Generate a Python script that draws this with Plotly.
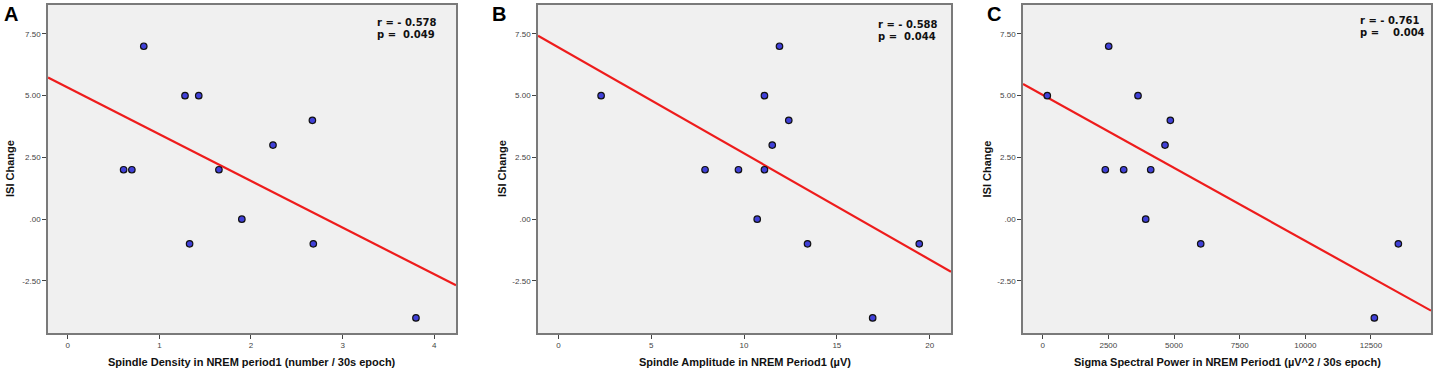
import numpy as np
import plotly.graph_objects as go

# ---- data ----
density_x = [0.83, 0.61, 0.70, 1.28, 1.43, 1.65, 2.24, 2.67, 1.33, 1.90, 2.68, 3.80]
density_y = [7, 2, 2, 5, 5, 2, 3, 4, -1, 0, -1, -4]

amplitude_x = [2.30, 11.91, 11.10, 12.41, 11.52, 7.90, 9.70, 11.10, 10.71, 13.42, 16.93, 19.44]
amplitude_y = [5, 7, 5, 4, 3, 2, 2, 2, 0, -1, -4, -1]

sigma_x = [175, 2513, 3629, 4860, 4657, 2384, 3084, 4113, 3922, 6017, 12628, 13542]
sigma_y = [5, 7, 5, 4, 3, 2, 2, 2, 0, -1, -4, -1]

panel_letters = ["A", "B", "C"]
x_titles = [
    "Spindle Density in NREM period1 (number / 30s epoch)",
    "Spindle Amplitude in NREM Period1 (µV)",
    "Sigma Spectral Power in NREM Period1 (µV^2 / 30s epoch)",
]
y_title = "ISI Change"
r_texts = ["r = - 0.578", "r = - 0.588", "r = - 0.761"]
p_texts = ["p =  0.049", "p =  0.044", "p =    0.004"]

x_tickvals = [[0, 1, 2, 3, 4], [0, 5, 10, 15, 20], [0, 2500, 5000, 7500, 10000, 12500]]
x_ticktext = [["0", "1", "2", "3", "4"], ["0", "5", "10", "15", "20"],
              ["0", "2500", "5000", "7500", "10000", "12500"]]
y_tickvals = [-2.5, 0, 2.5, 5, 7.5]
y_ticktext = ["-2.50", ".00", "2.50", "5.00", "7.50"]

# ---- layout geometry (pixels) ----
W, H = 1439, 375
plot_px = [(48, 456), (538, 951), (1023, 1431)]
plot_top, plot_bottom = 5, 333
x_ranges = [[-0.215, 4.237], [-1.10, 21.15], [-750, 14785]]
y_range = [-4.61, 8.67]
ytitle_px = [10, 502, 986.5]
letter_px = [11, 499, 993.5]
stat_left_px = [375, 875.5, 1357.5]
stat_y_px = [(22.7, 34.0), (25.0, 36.7), (20.7, 32.3)]


def px_x(v):
    return v / W


def px_y(v):
    return 1 - v / H


fig = go.Figure()
datasets = [(density_x, density_y), (amplitude_x, amplitude_y), (sigma_x, sigma_y)]
annotations = []
layout_axes = {}
tick_font = dict(family="Liberation Sans, Arial", size=8, color="#444444")
bold = dict(family="Liberation Sans, Arial", color="#111111")

for i, (xs, ys) in enumerate(datasets):
    suffix = "" if i == 0 else str(i + 1)
    xa, ya = "x" + suffix, "y" + suffix
    slope, intercept = np.polyfit(xs, ys, 1)
    lx = np.array(x_ranges[i])
    fig.add_trace(go.Scatter(
        x=lx, y=intercept + slope * lx, mode="lines",
        line=dict(color="#ee1c1c", width=2.2), xaxis=xa, yaxis=ya,
        showlegend=False, hoverinfo="skip"))
    fig.add_trace(go.Scatter(
        x=xs, y=ys, mode="markers",
        marker=dict(size=6.5, color="#4040d8", line=dict(color="#111111", width=1.2)),
        xaxis=xa, yaxis=ya, showlegend=False))

    x0, x1 = plot_px[i]
    layout_axes["xaxis" + suffix] = dict(
        domain=[px_x(x0), px_x(x1)], range=x_ranges[i], anchor=ya,
        tickvals=x_tickvals[i], ticktext=x_ticktext[i], ticks="outside",
        ticklen=4, tickwidth=1.2, tickcolor="#444444", showgrid=False,
        zeroline=False, showline=True, mirror=True, linecolor="#7a7a7a",
        linewidth=1.6, tickfont=tick_font,
    )
    layout_axes["yaxis" + suffix] = dict(
        domain=[px_y(plot_bottom), px_y(plot_top)], range=y_range, anchor=xa,
        tickvals=y_tickvals, ticktext=y_ticktext, ticks="outside", ticklen=4,
        tickwidth=1.2, tickcolor="#444444", showgrid=False, zeroline=False,
        showline=True, mirror=True, linecolor="#7a7a7a", linewidth=1.6,
        tickfont=tick_font,
    )

    # x-axis title
    annotations.append(dict(
        text="<b>" + x_titles[i] + "</b>", x=px_x((x0 + x1) / 2), y=px_y(362),
        xref="paper", yref="paper", xanchor="center", yanchor="middle",
        showarrow=False, font=dict(size=11, **bold)))
    # y-axis title
    annotations.append(dict(
        text="<b>" + y_title + "</b>", x=px_x(ytitle_px[i]),
        y=px_y((plot_top + plot_bottom) / 2), xref="paper", yref="paper",
        xanchor="center", yanchor="middle", textangle=-90, showarrow=False,
        font=dict(size=11, **bold)))
    # panel letter
    annotations.append(dict(
        text="<b>" + panel_letters[i] + "</b>", x=px_x(letter_px[i]), y=px_y(14),
        xref="paper", yref="paper", xanchor="center", yanchor="middle",
        showarrow=False, font=dict(size=20, family="Liberation Sans, Arial", color="#000000")))
    # statistics
    for txt, yy in zip((r_texts[i], p_texts[i]), stat_y_px[i]):
        annotations.append(dict(
            text="<b>" + txt.replace(" ", "\u00a0") + "</b>", x=px_x(stat_left_px[i]),
            y=px_y(yy), xref="paper", yref="paper", xanchor="left",
            yanchor="middle", showarrow=False,
            font=dict(size=10, family="DejaVu Sans", color="#111111")))

fig.update_layout(
    width=W, height=H, margin=dict(l=0, r=0, t=0, b=0),
    paper_bgcolor="#ffffff", plot_bgcolor="#f0f0f0",
    annotations=annotations, **layout_axes)

fig.write_html("out.html", config={"displayModeBar": False},
               post_script="document.body.style.margin='0px';")
